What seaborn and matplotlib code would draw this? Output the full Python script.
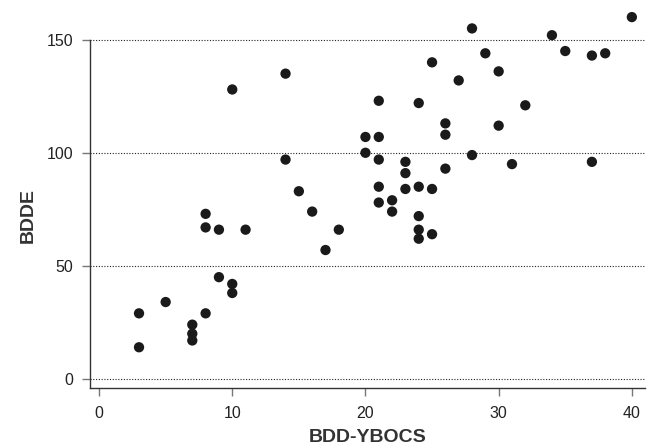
import matplotlib
matplotlib.use("Agg")
import matplotlib.pyplot as plt
import seaborn as sns
import pandas as pd

# BDD-YBOCS score vs BDDE score
bdd_ybocs = [3, 3, 5, 7, 7, 7, 8, 8, 8, 9, 9, 10, 10, 10, 11,
             14, 14, 15, 16, 17, 18, 20, 20, 21, 21, 21, 21, 21,
             22, 22, 23, 23, 23, 24, 24, 24, 24, 24, 25, 25, 25,
             26, 26, 26, 27, 28, 28, 29, 30, 30, 31, 32, 34, 35,
             37, 37, 38, 40]
bdde = [29, 14, 34, 24, 20, 17, 73, 67, 29, 66, 45, 128, 42, 38, 66,
        135, 97, 83, 74, 57, 66, 107, 100, 123, 107, 97, 85, 78,
        79, 74, 96, 91, 84, 122, 85, 72, 66, 62, 140, 84, 64,
        113, 108, 93, 132, 155, 99, 144, 136, 112, 95, 121, 152, 145,
        143, 96, 144, 160]

y_ticks = [0, 50, 100, 150]
x_ticks = [0, 10, 20, 30, 40]

df = pd.DataFrame({"BDD-YBOCS": bdd_ybocs, "BDDE": bdde})

sns.set_style("white")
plt.rcParams['font.family'] = ['Liberation Sans', 'DejaVu Sans']

fig = plt.figure(figsize=(6.55, 4.48), dpi=100)
ax = fig.add_axes([0.137, 0.134, 0.848, 0.848])

for yv in y_ticks:
    ax.axhline(yv, color='#222222', linestyle=(0, (1, 1.5)), linewidth=0.8, zorder=0)

sns.scatterplot(data=df, x="BDD-YBOCS", y="BDDE", ax=ax, s=55,
                color='#1a1a1a', edgecolor='none', zorder=3)

ax.set_xlim(-0.7, 41.0)
ax.set_ylim(-4, 164)
ax.set_xticks(x_ticks)
ax.set_yticks(y_ticks)

sns.despine(ax=ax)
ax.spines['left'].set_bounds(-4, 150)
for side in ['left', 'bottom']:
    ax.spines[side].set_color('#333333')
    ax.spines[side].set_linewidth(1.0)

ax.tick_params(axis='both', direction='out', length=6, width=1,
               color='#777777', labelsize=11.5, labelcolor='#222222')
ax.tick_params(axis='x', bottom=True, pad=7)
ax.tick_params(axis='y', left=True, pad=6)

ax.set_xlabel('BDD-YBOCS', fontsize=14, fontweight='bold', color='#333333')
ax.set_ylabel('BDDE', fontsize=14, fontweight='bold', color='#333333')
ax.xaxis.set_label_coords(0.5, -0.108)
ax.yaxis.set_label_coords(-0.095, 0.453)

fig.savefig('out.png', dpi=100)
